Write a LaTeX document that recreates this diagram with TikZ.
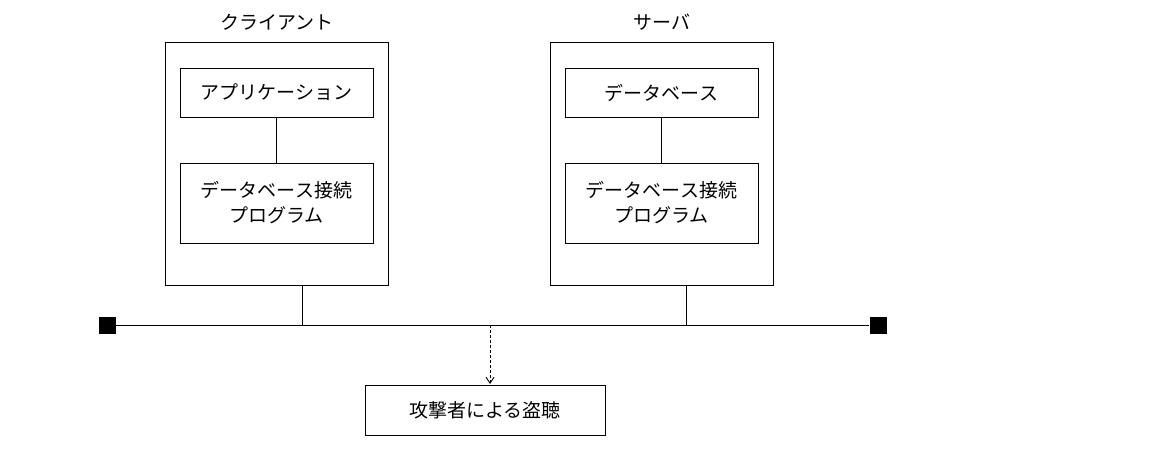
\documentclass[tikz,border=0pt]{standalone}
\usepackage{fontspec}
\setmainfont{Noto Sans CJK JP}
\usetikzlibrary{arrows.meta}
\begin{document}
\begin{tikzpicture}[x=1pt,y=-1pt,
  box/.style={draw,line width=0.9pt,inner sep=0pt},
  txt/.style={font=\fontsize{19}{25}\selectfont,align=center},
  ln/.style={line width=0.9pt}]
\useasboundingbox (0,0) rectangle (1172,470);
% client
\node[box,minimum width=223,minimum height=243] (c) at (276.5,163.5) {};
\node[txt] (ct) at (277,22) {クライアント};
\node[box,txt,minimum width=193,minimum height=49] (ca) at (276.5,92.5) {アプリケーション};
\node[box,txt,minimum width=193,minimum height=80] (cd) at (276.5,203) {データベース接続\\プログラム};
\draw[ln] (ca.south) -- (cd.north);
% server
\node[box,minimum width=223,minimum height=243] (s) at (661.5,163.5) {};
\node[txt] (st) at (662,22) {サーバ};
\node[box,txt,minimum width=193,minimum height=49] (sa) at (661.5,92.5) {データベース};
\node[box,txt,minimum width=193,minimum height=80] (sd) at (661.5,203) {データベース接続\\プログラム};
\draw[ln] (sa.south) -- (sd.north);
% bus
\node[fill=black,minimum size=17,inner sep=0] (l) at (107,325) {};
\node[fill=black,minimum size=17,inner sep=0] (r) at (878,325) {};
\draw[ln] (l) -- (r);
\coordinate (cb) at (302,325);
\coordinate (sb) at (686,325);
\coordinate (ab) at (490,325);
\draw[ln] (302,285) -- (cb);
\draw[ln] (686,285) -- (sb);
% attacker
\node[box,txt,minimum width=240,minimum height=50] (a) at (485,410) {攻撃者による盗聴};
\draw[ln,densely dashed,-{Straight Barb[length=6pt,width=8pt]}] (ab) -- (490,384);
\end{tikzpicture}
\end{document}
